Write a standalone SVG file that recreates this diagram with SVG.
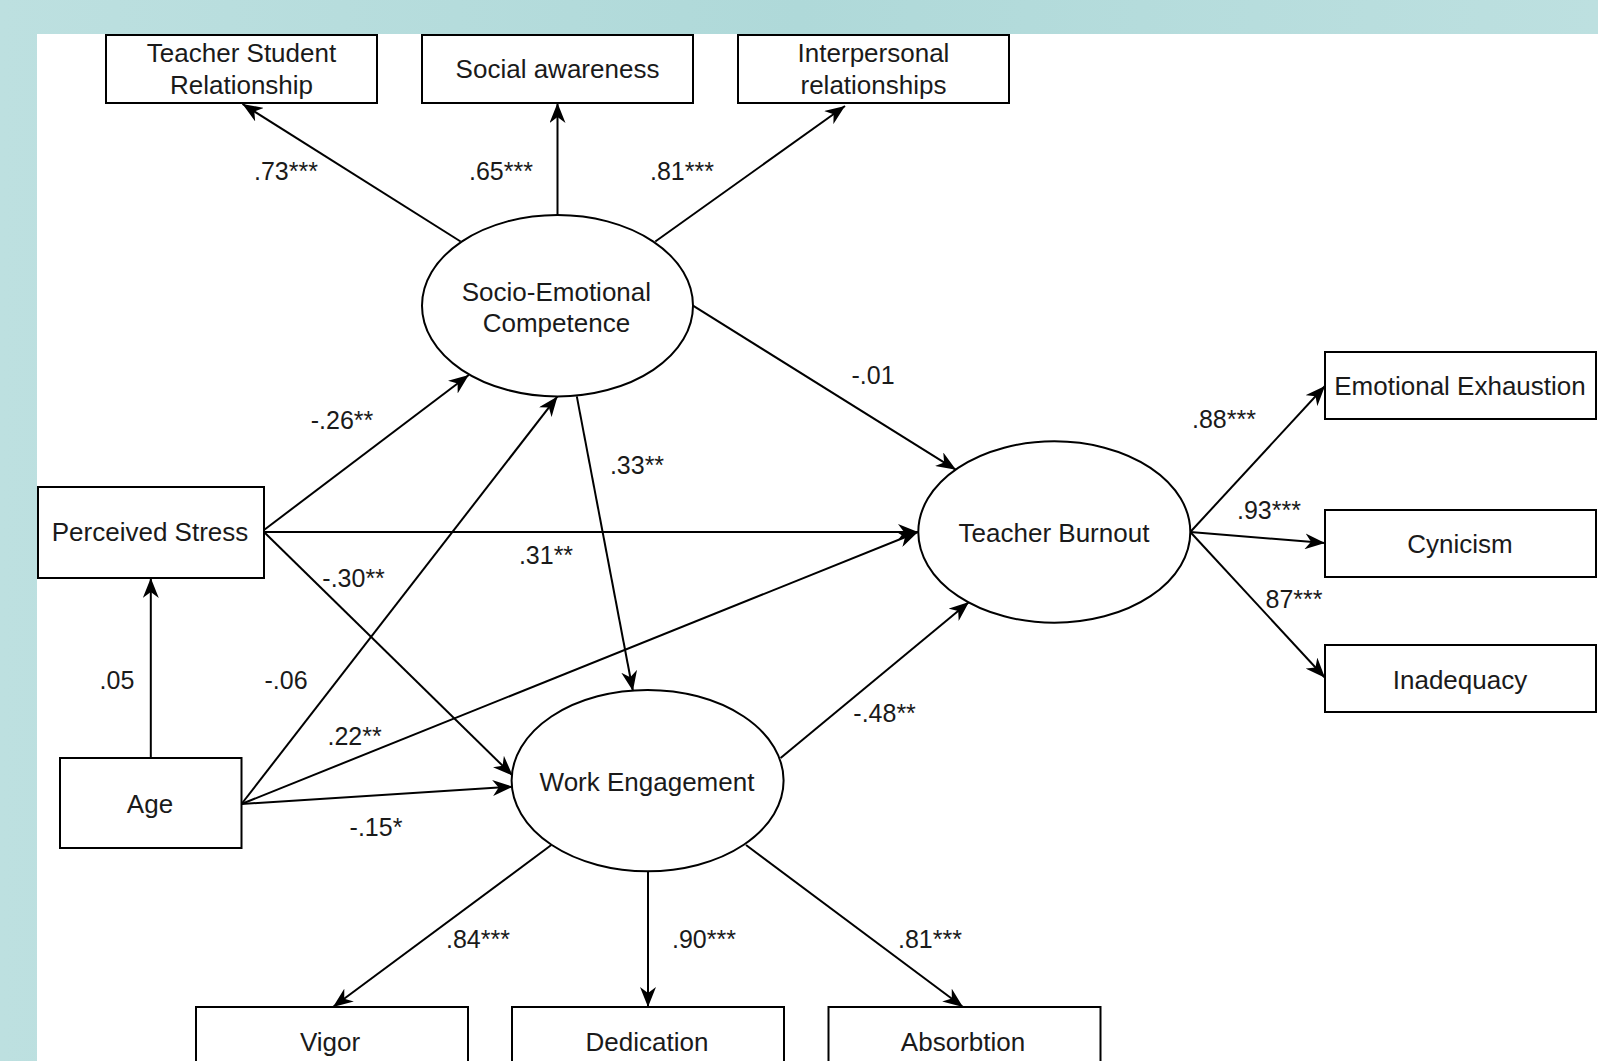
<svg xmlns="http://www.w3.org/2000/svg" width="1598" height="1061" viewBox="0 0 1598 1061">
<defs>
<linearGradient id="bg" x1="0" y1="0" x2="1" y2="0">
<stop offset="0" stop-color="#bde0e0"/>
<stop offset="0.5" stop-color="#afd9d9"/>
<stop offset="1" stop-color="#bde0e0"/>
</linearGradient>
<marker id="arr" markerUnits="userSpaceOnUse" markerWidth="22" markerHeight="16" refX="20" refY="8" orient="auto">
<path d="M0,0 L20,8 L0,16 L6,8 z" fill="#000"/>
</marker>
<style>
.box{fill:#fff;stroke:#000;stroke-width:2}
.lat{fill:#fff;stroke:#000;stroke-width:2}
.t{font-family:"Liberation Sans",Arial,sans-serif;font-size:26px;fill:#1a1a1a;text-anchor:middle}
.lbl{font-family:"Liberation Sans",Arial,sans-serif;font-size:25px;fill:#1a1a1a;text-anchor:middle}
.e{stroke:#000;stroke-width:2;fill:none;marker-end:url(#arr)}
</style>
</defs>
<rect x="0" y="0" width="1598" height="1061" fill="url(#bg)"/>
<rect x="37" y="34" width="1561" height="1027" fill="#fff"/>

<g id="connectors">
<line class="e" x1="460.6" y1="241.5" x2="242.5" y2="104"/>
<line class="e" x1="557.5" y1="215" x2="557.5" y2="103"/>
<line class="e" x1="655.3" y1="241.5" x2="845" y2="106"/>
<line class="e" x1="693" y1="305.7" x2="956" y2="469.8"/>
<line class="e" x1="264" y1="530" x2="468.8" y2="375"/>
<line class="e" x1="264" y1="532" x2="918" y2="532"/>
<line class="e" x1="264" y1="532" x2="512.6" y2="775.5"/>
<line class="e" x1="150.8" y1="758" x2="150.8" y2="578"/>
<line class="e" x1="241.5" y1="804" x2="557.5" y2="396.4"/>
<line class="e" x1="241.5" y1="804" x2="918" y2="532"/>
<line class="e" x1="241.5" y1="804" x2="512.6" y2="786.7"/>
<line class="e" x1="576.8" y1="396.4" x2="632.9" y2="691"/>
<line class="e" x1="780.6" y1="758" x2="969" y2="602"/>
<line class="e" x1="1190.3" y1="532" x2="1325" y2="386"/>
<line class="e" x1="1190.3" y1="532" x2="1325" y2="543"/>
<line class="e" x1="1190.3" y1="532" x2="1325" y2="677.7"/>
<line class="e" x1="551.3" y1="845" x2="333" y2="1007"/>
<line class="e" x1="648" y1="871.3" x2="648" y2="1007"/>
<line class="e" x1="746" y1="845" x2="963" y2="1007"/>
<text class="lbl" x="286" y="180">.73***</text>
<text class="lbl" x="501" y="180">.65***</text>
<text class="lbl" x="682" y="180">.81***</text>
<text class="lbl" x="873" y="384">-.01</text>
<text class="lbl" x="342" y="429">-.26**</text>
<text class="lbl" x="637" y="474">.33**</text>
<text class="lbl" x="353.6" y="587">-.30**</text>
<text class="lbl" x="546" y="564">.31**</text>
<text class="lbl" x="117" y="689">.05</text>
<text class="lbl" x="286" y="689">-.06</text>
<text class="lbl" x="354.6" y="745">.22**</text>
<text class="lbl" x="376" y="835.5">-.15*</text>
<text class="lbl" x="884.6" y="722">-.48**</text>
<text class="lbl" x="1224" y="428">.88***</text>
<text class="lbl" x="1269" y="518.6">.93***</text>
<text class="lbl" x="1294" y="608">87***</text>
<text class="lbl" x="478" y="947.6">.84***</text>
<text class="lbl" x="704" y="947.6">.90***</text>
<text class="lbl" x="930" y="947.6">.81***</text>
</g>

<g id="tsr">
<rect class="box" x="106" y="35" width="271" height="68"/>
<text class="t" x="241.5" y="62">Teacher Student</text>
<text class="t" x="241.5" y="94">Relationship</text>
</g>
<g id="social-awareness">
<rect class="box" x="422" y="35" width="271" height="68"/>
<text class="t" x="557.5" y="78">Social awareness</text>
</g>
<g id="interpersonal">
<rect class="box" x="738" y="35" width="271" height="68"/>
<text class="t" x="873.5" y="62">Interpersonal</text>
<text class="t" x="873.5" y="94">relationships</text>
</g>
<g id="sec">
<ellipse class="lat" cx="557.5" cy="305.7" rx="135.5" ry="90.7"/>
<text class="t" x="556.4" y="300.5">Socio-Emotional</text>
<text class="t" x="556.4" y="332">Competence</text>
</g>
<g id="perceived-stress">
<rect class="box" x="38" y="487" width="226" height="91"/>
<text class="t" x="150" y="541">Perceived Stress</text>
</g>
<g id="age">
<rect class="box" x="60" y="758" width="181.5" height="90"/>
<text class="t" x="150" y="813">Age</text>
</g>
<g id="teacher-burnout">
<ellipse class="lat" cx="1054.3" cy="532" rx="136" ry="90.7"/>
<text class="t" x="1054" y="542">Teacher Burnout</text>
</g>
<g id="work-engagement">
<ellipse class="lat" cx="647.6" cy="780.6" rx="136" ry="90.7"/>
<text class="t" x="647" y="790.6">Work Engagement</text>
</g>
<g id="emotional-exhaustion">
<rect class="box" x="1325" y="352" width="271" height="67"/>
<text class="t" x="1460" y="395">Emotional Exhaustion</text>
</g>
<g id="cynicism">
<rect class="box" x="1325" y="510" width="271" height="67"/>
<text class="t" x="1460" y="553">Cynicism</text>
</g>
<g id="inadequacy">
<rect class="box" x="1325" y="645" width="271" height="67"/>
<text class="t" x="1460" y="689">Inadequacy</text>
</g>
<g id="vigor">
<rect class="box" x="196" y="1007" width="272" height="80"/>
<text class="t" x="330" y="1050.5">Vigor</text>
</g>
<g id="dedication">
<rect class="box" x="512" y="1007" width="272" height="80"/>
<text class="t" x="647" y="1050.5">Dedication</text>
</g>
<g id="absorbtion">
<rect class="box" x="828.5" y="1007" width="272" height="80"/>
<text class="t" x="963" y="1050.5">Absorbtion</text>
</g>
</svg>
